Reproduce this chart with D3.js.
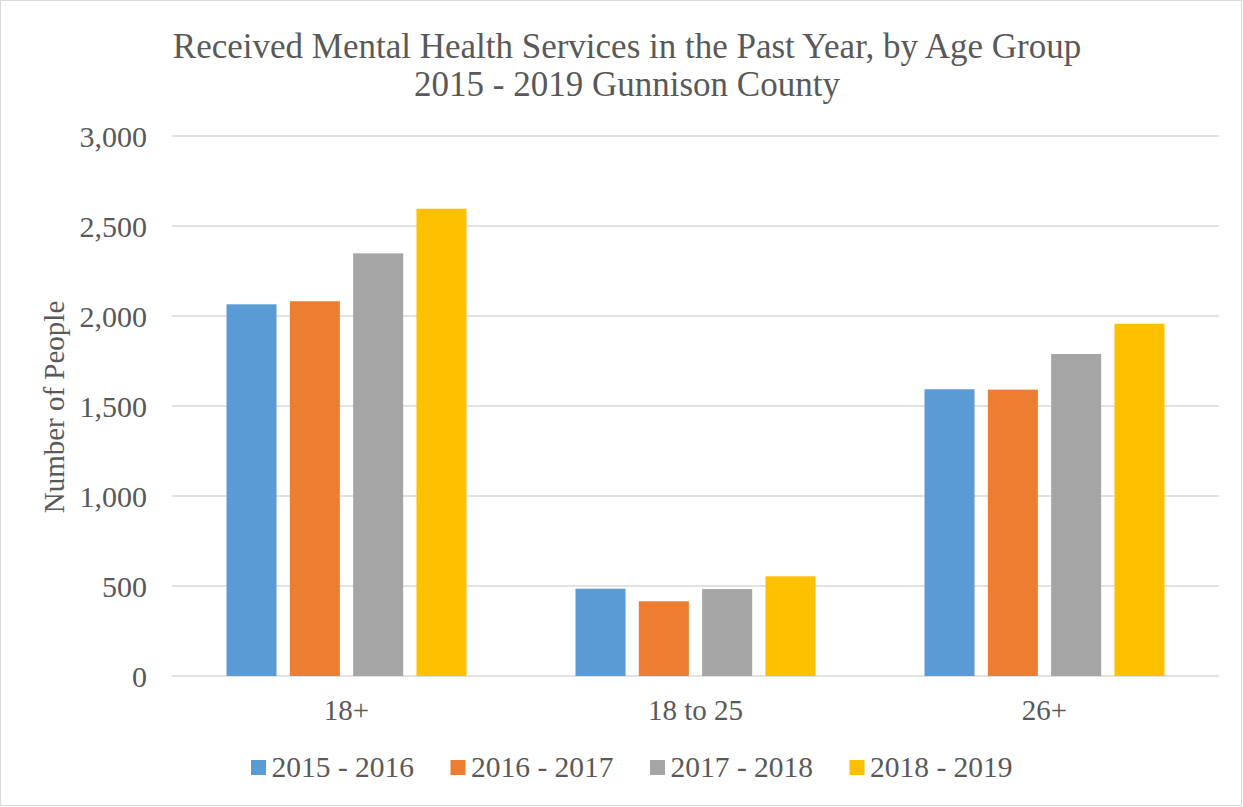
<!DOCTYPE html>
<html>
<head>
<meta charset="utf-8">
<script src="https://cdn.jsdelivr.net/npm/d3@7"></script>
<style>
  html, body { margin: 0; padding: 0; background: #fff; }
  svg text { font-family: "Liberation Serif", "Times New Roman", serif; fill: #595959; }
</style>
</head>
<body>
<svg id="chart" width="1243" height="807"></svg>
<script>
const categories = ["18+", "18 to 25", "26+"];
const seriesNames = ["2015 - 2016", "2016 - 2017", "2017 - 2018", "2018 - 2019"];
const values2015_2016 = [2065, 485, 1593];
const values2016_2017 = [2082, 415, 1591];
const values2017_2018 = [2348, 483, 1789];
const values2018_2019 = [2596, 554, 1957];
const yTicks = [0, 500, 1000, 1500, 2000, 2500, 3000];
const colors = ["#5b9bd5", "#ed7d31", "#a5a5a5", "#ffc000"];
const titleLines = ["Received Mental Health Services in the Past Year, by Age Group", "2015 - 2019 Gunnison County"];
const yAxisTitle = "Number of People";

const seriesValues = [values2015_2016, values2016_2017, values2017_2018, values2018_2019];

const svg = d3.select("#chart");
const W = 1243, H = 807;
const m = { left: 172, right: 1219, top: 136, bottom: 676 };

svg.append("rect").attr("x", 0.5).attr("y", 0.5).attr("width", W - 2).attr("height", H - 2)
  .attr("fill", "#fff").attr("stroke", "#d9d9d9").attr("stroke-width", 1);

const y = d3.scaleLinear().domain([0, 3000]).range([m.bottom, m.top]);
const x0 = d3.scaleBand().domain(categories).range([m.left, m.right]).paddingInner(0).paddingOuter(0);
const groupWidth = 240;
const x1 = d3.scaleBand().domain(seriesNames).range([0, groupWidth]).paddingInner(0.21).paddingOuter(0);

// gridlines
svg.append("g").selectAll("line").data(yTicks).join("line")
  .attr("x1", m.left).attr("x2", m.right)
  .attr("y1", d => y(d)).attr("y2", d => y(d))
  .attr("stroke", "#d9d9d9").attr("stroke-width", 1.5);

// y tick labels via axis
const yAxis = d3.axisLeft(y).tickValues(yTicks).tickFormat(d3.format(",")).tickSize(0).tickPadding(0);
const gy = svg.append("g").attr("transform", `translate(147,0)`).call(yAxis);
gy.select(".domain").remove();
gy.selectAll("text").attr("font-size", 30).attr("fill", "#595959")
  .attr("font-family", "Liberation Serif").attr("dy", "0.34em");

// bars
const groups = svg.append("g").selectAll("g").data(categories).join("g")
  .attr("transform", d => `translate(${x0(d) + x0.bandwidth() / 2 - groupWidth / 2},0)`);
groups.selectAll("rect").data((c, ci) => seriesNames.map((s, si) => ({ s, si, v: seriesValues[si][ci] })))
  .join("rect")
  .attr("x", d => x1(d.s)).attr("width", x1.bandwidth())
  .attr("y", d => y(d.v)).attr("height", d => y(0) - y(d.v))
  .attr("fill", d => colors[d.si]);

// x axis labels
const xAxis = d3.axisBottom(x0).tickSize(0).tickPadding(0);
const gx = svg.append("g").attr("transform", `translate(0,${m.bottom})`).call(xAxis);
gx.select(".domain").remove();
gx.selectAll("text").attr("font-size", 29).attr("fill", "#595959")
  .attr("font-family", "Liberation Serif").attr("y", 44).attr("dy", 0);

// title
svg.append("text").attr("x", 627).attr("y", 58).attr("text-anchor", "middle")
  .attr("font-size", 35).text(titleLines[0]);
svg.append("text").attr("x", 627).attr("y", 96).attr("text-anchor", "middle")
  .attr("font-size", 35).text(titleLines[1]);

// y axis title
svg.append("text").attr("transform", "translate(64,407) rotate(-90)").attr("text-anchor", "middle")
  .attr("font-size", 29).text(yAxisTitle);

// legend
const legendX = [251, 450.5, 650, 849.5];
const lg = svg.append("g").selectAll("g").data(seriesNames).join("g")
  .attr("transform", (d, i) => `translate(${legendX[i]},0)`);
lg.append("rect").attr("x", 0).attr("y", 760).attr("width", 15).attr("height", 15)
  .attr("fill", (d, i) => colors[i]);
lg.append("text").attr("x", 20.5).attr("y", 777).attr("font-size", 29.5).text(d => d);
</script>
</body>
</html>
